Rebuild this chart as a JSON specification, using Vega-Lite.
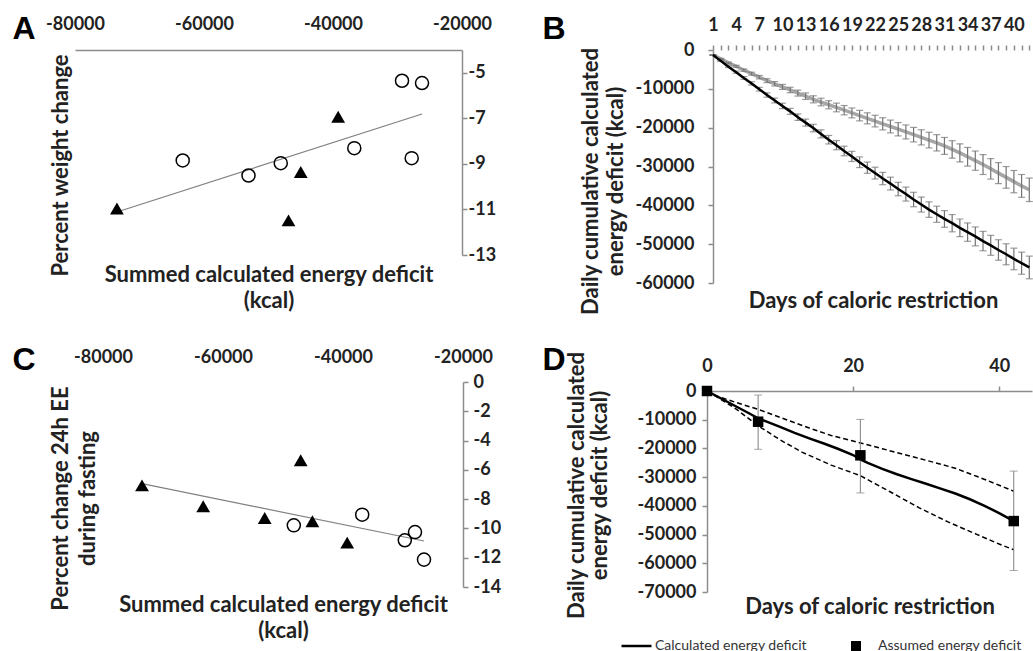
{
"$schema": "https://vega.github.io/schema/vega-lite/v6.json",
"padding": {"left": 12, "top": 12, "right": 0, "bottom": 0},
"autosize": {"type": "pad"},
"background": "white",
"config": {
  "font": "Lato",
  "view": {"stroke": null},
  "axis": {"labelFont": "Lato", "labelFontWeight": "bold", "labelFontSize": 18, "labelColor": "#222222",
           "titleFont": "Lato", "titleFontWeight": "bold", "titleFontSize": 22, "titleColor": "#222222",
           "domainColor": "#8c8c8c", "domainWidth": 1.5, "tickColor": "#8c8c8c", "tickWidth": 1.5,
           "grid": false, "labelFlush": false, "labelOverlap": false, "minExtent": 0}
},
"datasets": {
  "A": [
    {"x": -63300, "y": -8.85, "g": "open"}, {"x": -53100, "y": -9.51, "g": "open"}, {"x": -48100, "y": -8.97, "g": "open"},
    {"x": -36700, "y": -8.31, "g": "open"}, {"x": -29300, "y": -5.35, "g": "open"}, {"x": -26200, "y": -5.45, "g": "open"},
    {"x": -27800, "y": -8.75, "g": "open"},
    {"x": -73500, "y": -10.96, "g": "filled"}, {"x": -46900, "y": -11.48, "g": "filled"}, {"x": -45000, "y": -9.36, "g": "filled"},
    {"x": -39200, "y": -6.93, "g": "filled"}
  ],
  "Atrend": [{"x": -73500, "y": -11.11}, {"x": -26200, "y": -6.81}],
  "C": [
    {"x": -73500, "y": -7.06, "g": "filled"}, {"x": -63300, "y": -8.49, "g": "filled"}, {"x": -53050, "y": -9.29, "g": "filled"},
    {"x": -47050, "y": -5.35, "g": "filled"}, {"x": -45100, "y": -9.51, "g": "filled"}, {"x": -39300, "y": -10.97, "g": "filled"},
    {"x": -48200, "y": -9.79, "g": "open"}, {"x": -36800, "y": -9.06, "g": "open"}, {"x": -29700, "y": -10.81, "g": "open"},
    {"x": -28000, "y": -10.25, "g": "open"}, {"x": -26500, "y": -12.13, "g": "open"}
  ],
  "Ctrend": [{"x": -73500, "y": -6.94}, {"x": -26500, "y": -10.86}],
  "B": [
    {"d":1,"s":"black","v":-1300,"e":80},{"d":2,"s":"black","v":-2800,"e":150},{"d":3,"s":"black","v":-4300,"e":220},
    {"d":4,"s":"black","v":-5700,"e":280},{"d":5,"s":"black","v":-7200,"e":350},{"d":6,"s":"black","v":-8600,"e":420},
    {"d":7,"s":"black","v":-10100,"e":480},{"d":8,"s":"black","v":-11600,"e":560},{"d":9,"s":"black","v":-13000,"e":620},
    {"d":10,"s":"black","v":-14400,"e":700},{"d":11,"s":"black","v":-15800,"e":760},{"d":12,"s":"black","v":-17300,"e":830},
    {"d":13,"s":"black","v":-18700,"e":900},{"d":14,"s":"black","v":-20100,"e":970},{"d":15,"s":"black","v":-21600,"e":1040},
    {"d":16,"s":"black","v":-23100,"e":1100},{"d":17,"s":"black","v":-24500,"e":1180},{"d":18,"s":"black","v":-26000,"e":1240},
    {"d":19,"s":"black","v":-27400,"e":1310},{"d":20,"s":"black","v":-28900,"e":1380},{"d":21,"s":"black","v":-30300,"e":1450},
    {"d":22,"s":"black","v":-31700,"e":1520},{"d":23,"s":"black","v":-33100,"e":1590},{"d":24,"s":"black","v":-34400,"e":1650},
    {"d":25,"s":"black","v":-35800,"e":1730},{"d":26,"s":"black","v":-37100,"e":1800},{"d":27,"s":"black","v":-38500,"e":1860},
    {"d":28,"s":"black","v":-39800,"e":1940},{"d":29,"s":"black","v":-41100,"e":2000},{"d":30,"s":"black","v":-42300,"e":2080},
    {"d":31,"s":"black","v":-43500,"e":2150},{"d":32,"s":"black","v":-44600,"e":2220},{"d":33,"s":"black","v":-45800,"e":2280},
    {"d":34,"s":"black","v":-46900,"e":2360},{"d":35,"s":"black","v":-48000,"e":2430},{"d":36,"s":"black","v":-49200,"e":2500},
    {"d":37,"s":"black","v":-50300,"e":2570},{"d":38,"s":"black","v":-51500,"e":2640},{"d":39,"s":"black","v":-52600,"e":2700},
    {"d":40,"s":"black","v":-53800,"e":2780},{"d":41,"s":"black","v":-54900,"e":2850},{"d":42,"s":"black","v":-56000,"e":2920},
    {"d":1,"s":"gray","v":-1300,"e":80},{"d":2,"s":"gray","v":-2300,"e":140},{"d":3,"s":"gray","v":-3300,"e":200},
    {"d":4,"s":"gray","v":-4200,"e":260},{"d":5,"s":"gray","v":-5200,"e":320},{"d":6,"s":"gray","v":-6100,"e":380},
    {"d":7,"s":"gray","v":-7000,"e":440},{"d":8,"s":"gray","v":-7900,"e":500},{"d":9,"s":"gray","v":-8700,"e":570},
    {"d":10,"s":"gray","v":-9500,"e":640},{"d":11,"s":"gray","v":-10300,"e":700},{"d":12,"s":"gray","v":-11100,"e":770},
    {"d":13,"s":"gray","v":-11900,"e":840},{"d":14,"s":"gray","v":-12700,"e":910},{"d":15,"s":"gray","v":-13400,"e":980},
    {"d":16,"s":"gray","v":-14100,"e":1050},{"d":17,"s":"gray","v":-14800,"e":1120},{"d":18,"s":"gray","v":-15500,"e":1200},
    {"d":19,"s":"gray","v":-16200,"e":1270},{"d":20,"s":"gray","v":-16900,"e":1350},{"d":21,"s":"gray","v":-17600,"e":1420},
    {"d":22,"s":"gray","v":-18300,"e":1500},{"d":23,"s":"gray","v":-19000,"e":1570},{"d":24,"s":"gray","v":-19700,"e":1650},
    {"d":25,"s":"gray","v":-20400,"e":1720},{"d":26,"s":"gray","v":-21100,"e":1800},{"d":27,"s":"gray","v":-21800,"e":1870},
    {"d":28,"s":"gray","v":-22500,"e":1950},{"d":29,"s":"gray","v":-23200,"e":2020},{"d":30,"s":"gray","v":-23900,"e":2100},
    {"d":31,"s":"gray","v":-24700,"e":2180},{"d":32,"s":"gray","v":-25600,"e":2250},{"d":33,"s":"gray","v":-26500,"e":2330},
    {"d":34,"s":"gray","v":-27500,"e":2400},{"d":35,"s":"gray","v":-28500,"e":2480},{"d":36,"s":"gray","v":-29500,"e":2560},
    {"d":37,"s":"gray","v":-30600,"e":2640},{"d":38,"s":"gray","v":-31700,"e":2710},{"d":39,"s":"gray","v":-32800,"e":2790},
    {"d":40,"s":"gray","v":-33900,"e":2870},{"d":41,"s":"gray","v":-35000,"e":2940},{"d":42,"s":"gray","v":-36000,"e":3020}
  ],
  "Dline": [
    {"d":0,"s":"mean","v":0},{"d":2,"s":"mean","v":-2700},{"d":4,"s":"mean","v":-5400},{"d":6,"s":"mean","v":-8100},
    {"d":7,"s":"mean","v":-9500},{"d":8,"s":"mean","v":-10500},{"d":10,"s":"mean","v":-12500},{"d":12,"s":"mean","v":-14600},
    {"d":14,"s":"mean","v":-16500},{"d":16,"s":"mean","v":-18300},{"d":18,"s":"mean","v":-20200},{"d":20,"s":"mean","v":-22300},
    {"d":21,"s":"mean","v":-23800},{"d":22,"s":"mean","v":-25000},{"d":24,"s":"mean","v":-27100},{"d":26,"s":"mean","v":-29000},
    {"d":28,"s":"mean","v":-30700},{"d":30,"s":"mean","v":-32300},{"d":32,"s":"mean","v":-34000},{"d":34,"s":"mean","v":-35700},
    {"d":36,"s":"mean","v":-37700},{"d":38,"s":"mean","v":-40000},{"d":40,"s":"mean","v":-42500},{"d":42,"s":"mean","v":-45300},
    {"d":1,"s":"upper","v":-1500},{"d":4,"s":"upper","v":-4000},{"d":7,"s":"upper","v":-6400},{"d":10,"s":"upper","v":-9200},
    {"d":14,"s":"upper","v":-12900},{"d":17,"s":"upper","v":-15500},{"d":20,"s":"upper","v":-17400},{"d":24,"s":"upper","v":-20100},
    {"d":28,"s":"upper","v":-22800},{"d":31,"s":"upper","v":-24800},{"d":34,"s":"upper","v":-26900},{"d":37,"s":"upper","v":-29800},
    {"d":40,"s":"upper","v":-32800},{"d":42,"s":"upper","v":-34900},
    {"d":1,"s":"lower","v":-1500},{"d":4,"s":"lower","v":-6300},{"d":7,"s":"lower","v":-12100},{"d":10,"s":"lower","v":-17000},
    {"d":13,"s":"lower","v":-21300},{"d":17,"s":"lower","v":-25800},{"d":21,"s":"lower","v":-29500},{"d":25,"s":"lower","v":-35000},
    {"d":29,"s":"lower","v":-40600},{"d":33,"s":"lower","v":-45600},{"d":37,"s":"lower","v":-50000},{"d":40,"s":"lower","v":-53300},
    {"d":42,"s":"lower","v":-55300}
  ],
  "Dsq": [
    {"d":0,"v":0,"lo":0,"hi":0},{"d":7,"v":-10700,"lo":-20300,"hi":-1400},
    {"d":21,"v":-22400,"lo":-35500,"hi":-9900},{"d":42,"v":-45300,"lo":-62500,"hi":-27900}
  ]
},
"columns": 2,
"align": "none",
"spacing": {"row": 28, "column": 41},
"concat": [
  {
    "width": 387, "height": 205,
    "resolve": {"axis": {"x": "independent", "y": "independent"}},
    "layer": [
      {
        "data": {"name": "Atrend"},
        "mark": {"type": "line", "color": "#808080", "strokeWidth": 1.2},
        "encoding": {
          "x": {"field": "x", "type": "quantitative", "scale": {"domain": [-80000, -20000], "nice": false, "zero": false},
                "axis": {"orient": "bottom", "labels": false, "ticks": false, "domain": false,
                         "title": ["Summed calculated energy deficit", "(kcal)"], "titlePadding": 9, "titleLineHeight": 26}},
          "y": {"field": "y", "type": "quantitative", "scale": {"domain": [-13, -4], "nice": false, "zero": false},
                "axis": {"orient": "left", "labels": false, "ticks": false, "domain": false,
                         "title": "Percent weight change", "titlePadding": 3, "titleY": 115}}
        }
      },
      {
        "data": {"name": "A"},
        "transform": [{"filter": "datum.g == 'open'"}],
        "mark": {"type": "point", "shape": "circle", "filled": false, "stroke": "black", "strokeWidth": 1.5, "size": 170, "opacity": 1},
        "encoding": {
          "x": {"field": "x", "type": "quantitative",
                "axis": {"orient": "top", "values": [-80000, -60000, -40000, -20000], "labelExpr": "'' + datum.value",
                         "ticks": false, "labelPadding": 17,
                         "title": "A", "titleX": -63, "titleY": -12, "titleAlign": "left", "titleBaseline": "alphabetic",
                         "titleFont": "Liberation Sans", "titleFontSize": 32, "titleFontWeight": "bold", "titleColor": "black"}},
          "y": {"field": "y", "type": "quantitative",
                "axis": {"orient": "right", "values": [-13, -11, -9, -7, -5], "labelExpr": "'' + datum.value",
                         "tickSize": 5, "labelPadding": 1, "title": null}}
        }
      },
      {
        "data": {"name": "A"},
        "transform": [{"filter": "datum.g == 'filled'"}],
        "mark": {"type": "point", "shape": "triangle-up", "filled": true, "color": "black", "size": 190, "opacity": 1},
        "encoding": {
          "x": {"field": "x", "type": "quantitative", "axis": null},
          "y": {"field": "y", "type": "quantitative", "axis": null}
        }
      }
    ]
  },
  {
    "width": 325, "height": 233,
    "resolve": {"axis": {"x": "independent", "y": "independent"}},
    "layer": [
      {
        "data": {"name": "B"},
        "transform": [{"filter": "datum.s == 'gray'"}],
        "mark": {"type": "line", "color": "#a6a6a6", "strokeWidth": 3.5},
        "encoding": {
          "x": {"field": "d", "type": "quantitative", "scale": {"domain": [0.22, 42.35], "nice": false, "zero": false},
                "axis": {"orient": "bottom", "labels": false, "ticks": false, "domain": false,
                         "title": "Days of caloric restriction", "titlePadding": 7, "titleX": 166}},
          "y": {"field": "v", "type": "quantitative", "scale": {"domain": [-60000, 0], "nice": false, "zero": false}, "axis": null}
        }
      },
      {
        "data": {"name": "B"},
        "mark": {"type": "errorbar", "ticks": {"size": 7}, "color": "#737373", "thickness": 1.2},
        "encoding": {
          "x": {"field": "d", "type": "quantitative",
                "axis": {"orient": "top", "domain": false, "values": [1,2,3,4,5,6,7,8,9,10,11,12,13,14,15,16,17,18,19,20,21,22,23,24,25,26,27,28,29,30,31,32,33,34,35,36,37,38,39,40,41,42],
                         "labelExpr": "(datum.value - 1) % 3 == 0 ? '' + datum.value : ''",
                         "tickSize": 5, "labelPadding": 11,
                         "title": "B", "titleX": -165, "titleY": -12, "titleAlign": "left", "titleBaseline": "alphabetic",
                         "titleFont": "Liberation Sans", "titleFontSize": 32, "titleFontWeight": "bold", "titleColor": "black"}},
          "y": {"field": "v", "type": "quantitative",
                "axis": {"orient": "left", "offset": -6, "values": [-60000, -50000, -40000, -30000, -20000, -10000, 0], "labelExpr": "'' + datum.value",
                         "tickSize": 5, "labelPadding": 14,
                         "title": ["Daily cumulative calculated", "energy deficit (kcal)"], "titleY": 131, "titlePadding": 8, "titleLineHeight": 25}},
          "yError": {"field": "e"}
        }
      },
      {
        "mark": {"type": "rule", "color": "#8c8c8c", "strokeWidth": 1.5},
        "encoding": {
          "x": {"datum": 1, "type": "quantitative", "axis": null},
          "x2": {"datum": 42.35},
          "y": {"datum": 0, "type": "quantitative", "axis": null}
        }
      },
      {
        "data": {"name": "B"},
        "transform": [{"filter": "datum.s == 'black'"}],
        "mark": {"type": "line", "color": "black", "strokeWidth": 2.5},
        "encoding": {
          "x": {"field": "d", "type": "quantitative", "axis": null},
          "y": {"field": "v", "type": "quantitative", "axis": null}
        }
      }
    ]
  },
  {
    "width": 388, "height": 205,
    "resolve": {"axis": {"x": "independent", "y": "independent"}},
    "layer": [
      {
        "data": {"name": "Ctrend"},
        "mark": {"type": "line", "color": "#808080", "strokeWidth": 1.2},
        "encoding": {
          "x": {"field": "x", "type": "quantitative", "scale": {"domain": [-84667, -20000], "nice": false, "zero": false},
                "axis": {"orient": "bottom", "labels": false, "ticks": false, "domain": false,
                         "title": ["Summed calculated energy deficit", "(kcal)"], "titlePadding": 7, "titleLineHeight": 26, "titleX": 208}},
          "y": {"field": "y", "type": "quantitative", "scale": {"domain": [-14, 0], "nice": false, "zero": false},
                "axis": {"orient": "left", "labels": false, "ticks": false, "domain": false,
                         "title": ["Percent change 24h EE", "during fasting"], "titleX": -3, "titleY": 116, "titleLineHeight": 27}}
        }
      },
      {
        "mark": {"type": "rule", "color": "#8c8c8c", "strokeWidth": 1.5},
        "encoding": {
          "x": {"datum": -80000, "type": "quantitative", "axis": null},
          "x2": {"datum": -20000},
          "y": {"datum": 0, "type": "quantitative", "axis": null}
        }
      },
      {
        "data": {"name": "C"},
        "transform": [{"filter": "datum.g == 'open'"}],
        "mark": {"type": "point", "shape": "circle", "filled": false, "stroke": "black", "strokeWidth": 1.5, "size": 170, "opacity": 1},
        "encoding": {
          "x": {"field": "x", "type": "quantitative",
                "axis": {"orient": "top", "domain": false, "values": [-80000, -60000, -40000, -20000], "labelExpr": "'' + datum.value",
                         "ticks": false, "labelPadding": 16,
                         "title": "C", "titleX": -63, "titleY": -13, "titleAlign": "left", "titleBaseline": "alphabetic",
                         "titleFont": "Liberation Sans", "titleFontSize": 32, "titleFontWeight": "bold", "titleColor": "black"}},
          "y": {"field": "y", "type": "quantitative",
                "axis": {"orient": "right", "values": [-14, -12, -10, -8, -6, -4, -2, 0], "labelExpr": "'' + datum.value",
                         "tickSize": 5, "labelPadding": 5, "title": null}}
        }
      },
      {
        "data": {"name": "C"},
        "transform": [{"filter": "datum.g == 'filled'"}],
        "mark": {"type": "point", "shape": "triangle-up", "filled": true, "color": "black", "size": 190, "opacity": 1},
        "encoding": {
          "x": {"field": "x", "type": "quantitative", "axis": null},
          "y": {"field": "y", "type": "quantitative", "axis": null}
        }
      }
    ]
  },
  {
    "width": 325, "height": 201,
    "resolve": {"axis": {"x": "independent", "y": "independent"}},
    "layer": [
      {
        "data": {"name": "Dline"},
        "transform": [{"filter": "datum.s != 'mean'"}],
        "mark": {"type": "line", "color": "black", "strokeWidth": 1.5, "strokeDash": [5, 3]},
        "encoding": {
          "x": {"field": "d", "type": "quantitative", "scale": {"domain": [0, 44.5], "nice": false, "zero": false},
                "axis": {"orient": "top", "values": [0, 20, 40], "labelExpr": "'' + datum.value",
                         "tickSize": 5, "labelPadding": 11,
                         "title": "D", "titleX": -165, "titleY": -22, "titleAlign": "left", "titleBaseline": "alphabetic",
                         "titleFont": "Liberation Sans", "titleFontSize": 32, "titleFontWeight": "bold", "titleColor": "black"}},
          "y": {"field": "v", "type": "quantitative", "scale": {"domain": [-70000, 0], "nice": false, "zero": false},
                "axis": {"orient": "left", "values": [-70000, -60000, -50000, -40000, -30000, -20000, -10000, 0], "labelExpr": "'' + datum.value",
                         "tickSize": 5, "labelPadding": 6,
                         "title": ["Daily cumulative calculated", "energy deficit (kcal)"], "titleY": 94, "titlePadding": 26, "titleLineHeight": 23}},
          "detail": {"field": "s"}
        }
      },
      {
        "data": {"name": "Dline"},
        "transform": [{"filter": "datum.s == 'mean'"}],
        "mark": {"type": "line", "strokeWidth": 2.5},
        "encoding": {
          "x": {"field": "d", "type": "quantitative",
                "axis": {"orient": "bottom", "labels": false, "ticks": false, "domain": false,
                         "title": "Days of caloric restriction", "titlePadding": 4}},
          "y": {"field": "v", "type": "quantitative", "axis": null},
          "color": {"datum": "Calculated energy deficit", "type": "nominal", "scale": {"range": ["black"]},
                    "legend": {"orient": "none", "legendX": 545, "legendY": 589, "title": null, "padding": 0,
                               "symbolType": "stroke", "symbolSize": 900, "symbolStrokeWidth": 2.5, "clipHeight": 14,
                               "labelFont": "Lato", "labelFontSize": 14, "labelColor": "#333333", "labelOffset": 2}}
        }
      },
      {
        "data": {"name": "Dsq"},
        "transform": [{"filter": "datum.d > 0"}],
        "mark": {"type": "errorbar", "ticks": {"size": 8}, "color": "#808080", "thickness": 1},
        "encoding": {
          "x": {"field": "d", "type": "quantitative", "axis": null},
          "y": {"field": "lo", "type": "quantitative", "axis": null},
          "y2": {"field": "hi"}
        }
      },
      {
        "data": {"name": "Dsq"},
        "mark": {"type": "point", "filled": true, "color": "black", "size": 110, "opacity": 1},
        "encoding": {
          "x": {"field": "d", "type": "quantitative", "axis": null},
          "y": {"field": "v", "type": "quantitative", "axis": null},
          "shape": {"datum": "Assumed energy deficit", "type": "nominal", "scale": {"range": ["square"]},
                    "legend": {"orient": "none", "legendX": 774, "legendY": 589, "title": null, "padding": 0,
                               "symbolSize": 100, "symbolFillColor": "black", "symbolStrokeColor": "black",
                               "labelFont": "Lato", "labelFontSize": 14, "labelColor": "#333333", "labelOffset": 15}}
        }
      }
    ]
  }
]
}
